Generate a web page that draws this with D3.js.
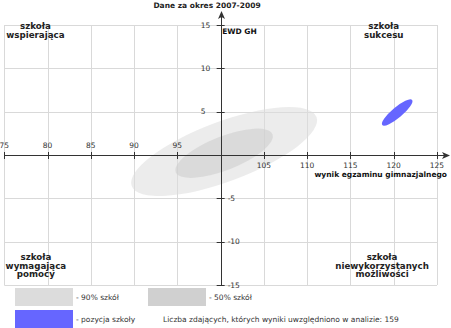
<!DOCTYPE html>
<html>
<head>
<meta charset="utf-8">
<script src="https://cdn.jsdelivr.net/npm/d3@7"></script>
<style>
  html, body { margin: 0; padding: 0; background: #fff; }
  svg { display: block; font-family: "DejaVu Sans", sans-serif; }
</style>
</head>
<body>
<svg id="chart" width="451" height="328"></svg>
<script>
// Axis ticks
const xTicks = [75, 80, 85, 90, 95, 100, 105, 110, 115, 120, 125];
const yTicks = [15, 10, 5, -5, -10, -15];

// Ranges of results for the population of schools (ellipses)
const bandNames = ["- 90% szkół", "- 50% szkół"];
const bandCenterX = [100.4, 100.4];
const bandCenterY = [0.4, 0.2];
const bandRadiusA = [11.4, 6.0];   // semi-axis along the ellipse direction
const bandRadiusB = [3.45, 1.95];   // semi-axis across
const bandAngle = [20.5, 21.5];     // degrees, counter-clockwise
const bandColors = ["#dcdcdc", "#cccccc"];

// Position of the school
const schoolName = "- pozycja szkoły";
const schoolX = 120.4;
const schoolY = 4.9;
const schoolRadiusA = 2.25;
const schoolRadiusB = 0.6;
const schoolAngle = 40;
const schoolColor = "#6666ff";

const quadrantLabels = [
  { lines: ["szkoła", "wspierająca"], x: 78.6, y: 14.55 },
  { lines: ["szkoła", "sukcesu"], x: 118.85, y: 14.55 },
  { lines: ["szkoła", "wymagająca", "pomocy"], x: 78.65, y: -12.1 },
  { lines: ["szkoła", "niewykorzystanych", "możliwości"], x: 118.65, y: -12.1 }
];

const title = "Dane za okres 2007-2009";
const xTitle = "wynik egzaminu gimnazjalnego";
const yTitle = "EWD GH";
const countText = "Liczba zdających, których wyniki uwzględniono w analizie: 159";

const svg = d3.select("#chart");
const x = d3.scaleLinear().domain([75, 125]).range([4.3, 437]);
const y = d3.scaleLinear().domain([-15, 15]).range([285, 25]);
const x0 = x(100), y0 = y(0);
const axisColor = "#333";
const gridColor = "#d9d9d9";

// grid
const grid = svg.append("g");
grid.selectAll("line.v").data(xTicks).join("line")
  .attr("x1", d => Math.round(x(d)) + 0.5).attr("x2", d => Math.round(x(d)) + 0.5)
  .attr("y1", y(15)).attr("y2", y(-15))
  .attr("stroke", gridColor).attr("stroke-width", 1);
grid.selectAll("line.h").data(yTicks).join("line")
  .attr("y1", d => Math.round(y(d)) + 0.5).attr("y2", d => Math.round(y(d)) + 0.5)
  .attr("x1", x(75)).attr("x2", x(125))
  .attr("stroke", gridColor).attr("stroke-width", 1);

// ellipses for school populations
const ell = svg.append("g");
bandNames.forEach((n, i) => {
  ell.append("ellipse")
    .attr("transform", `translate(${x(bandCenterX[i])},${y(bandCenterY[i])}) rotate(${-bandAngle[i]})`)
    .attr("rx", x(75 + bandRadiusA[i]) - x(75))
    .attr("ry", y(0) - y(bandRadiusB[i]))
    .attr("fill", bandColors[i])
    .attr("fill-opacity", 0.55);
});
ell.append("ellipse")
  .attr("transform", `translate(${x(schoolX)},${y(schoolY)}) rotate(${-schoolAngle})`)
  .attr("rx", x(75 + schoolRadiusA) - x(75))
  .attr("ry", y(0) - y(schoolRadiusB))
  .attr("fill", schoolColor);

// axes
const ax = svg.append("g").attr("stroke", axisColor).attr("stroke-width", 1);
ax.append("line").attr("x1", x(75)).attr("x2", 446).attr("y1", Math.round(y0) + 0.5).attr("y2", Math.round(y0) + 0.5);
ax.append("line").attr("x1", Math.round(x0) + 0.5).attr("x2", Math.round(x0) + 0.5).attr("y1", y(-15)).attr("y2", 15);
svg.append("path")
  .attr("d", `M450,${Math.round(y0) + 0.5} L442,${Math.round(y0) - 3} L444,${Math.round(y0) + 0.5} L442,${Math.round(y0) + 4} Z`)
  .attr("fill", axisColor);
svg.append("path")
  .attr("d", `M${Math.round(x0) + 0.5},11 L${Math.round(x0) - 3},19 L${Math.round(x0) + 0.5},17 L${Math.round(x0) + 4},19 Z`)
  .attr("fill", axisColor);

// tick marks
ax.selectAll("line.xt").data(xTicks.filter(d => d !== 100)).join("line")
  .attr("x1", d => Math.round(x(d)) + 0.5).attr("x2", d => Math.round(x(d)) + 0.5)
  .attr("y1", y0 - 3).attr("y2", y0 + 4);
ax.selectAll("line.yt").data(yTicks).join("line")
  .attr("y1", d => Math.round(y(d)) + 0.5).attr("y2", d => Math.round(y(d)) + 0.5)
  .attr("x1", x0 - 4).attr("x2", x0 + 4);

// tick labels
const tl = svg.append("g").attr("font-size", 7.5).attr("fill", "#333");
tl.selectAll("text.x").data(xTicks.filter(d => d !== 100)).join("text")
  .attr("x", d => x(d)).attr("y", d => d < 100 ? y0 - 7 : y0 + 12.5)
  .attr("text-anchor", "middle")
  .text(d => d);
tl.selectAll("text.y").data(yTicks).join("text")
  .attr("x", d => d > 0 ? x0 - 20 : x0 + 7)
  .attr("y", d => y(d) + 2.8)
  .attr("text-anchor", "start")
  .text(d => d);

// titles
svg.append("text").attr("x", 207).attr("y", 8).attr("text-anchor", "middle")
  .attr("font-size", 7.5).attr("font-weight", "bold").attr("fill", "#222").text(title);
svg.append("text").attr("x", 447).attr("y", 177).attr("text-anchor", "end")
  .attr("font-size", 7.5).attr("font-weight", "bold").attr("fill", "#111").text(xTitle);
svg.append("text").attr("x", x0 + 1.5).attr("y", 34).attr("text-anchor", "start")
  .attr("font-size", 7.5).attr("font-weight", "bold").attr("fill", "#111").text(yTitle);

// quadrant labels
const ql = svg.append("g").attr("font-size", 8.7).attr("font-weight", "bold").attr("fill", "#222");
quadrantLabels.forEach(q => {
  const t = ql.append("text").attr("text-anchor", "middle");
  q.lines.forEach((line, i) => {
    t.append("tspan").attr("x", x(q.x)).attr("y", y(q.y) + i * 8.7).text(line);
  });
});

// legend
const lg = svg.append("g").attr("font-size", 7.5).attr("fill", "#333");
const legendItems = [
  { label: bandNames[0], color: bandColors[0], x: 15, y: 288 },
  { label: bandNames[1], color: "#d0d0d0", x: 148, y: 288 },
  { label: schoolName, color: schoolColor, x: 15, y: 310 }
];
legendItems.forEach(it => {
  lg.append("rect").attr("x", it.x).attr("y", it.y).attr("width", 58).attr("height", 18).attr("fill", it.color);
  lg.append("text").attr("x", it.x + 61).attr("y", it.y + 11.5).text(it.label);
});
lg.append("text").attr("x", 163).attr("y", 321.5).text(countText);
</script>
</body>
</html>
